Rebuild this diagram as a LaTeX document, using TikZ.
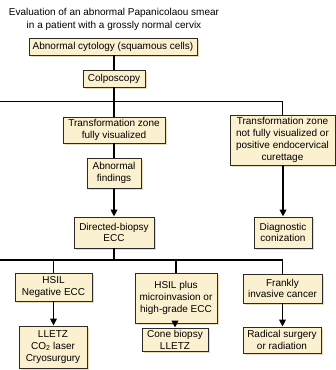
\documentclass[tikz,border=0pt]{standalone}
\usepackage{fontspec}
\setmainfont{Liberation Sans}
\usetikzlibrary{arrows.meta}
\definecolor{boxfill}{HTML}{FBF0CF}
\definecolor{boxshadow}{HTML}{E9DCB8}
\definecolor{boxline}{HTML}{2A2A2A}
\tikzset{
  box/.style={draw=boxline, line width=0.8pt, fill=boxfill, align=center,
    inner sep=0pt, font=\fontsize{10}{11.8}\selectfont,
    preaction={fill=boxshadow, transform canvas={shift={(2pt,-2pt)}}}},
  conn/.style={line width=1.7pt, black},
  arr/.style={conn, -{Triangle[length=7pt,width=6.5pt]}}
}
\newcommand{\bx}[6]{\node[box, minimum width=#4pt, minimum height=#5pt] (#1) at (#2,#3) {#6};}
\begin{document}
\begin{tikzpicture}[x=1pt,y=-1pt]
\useasboundingbox (0,0) rectangle (336,370);
\node[align=center, font=\fontsize{10}{13}\selectfont] (title) at (114,19.5)
  {Evaluation of an abnormal Papanicolaou smear\\in a patient with a grossly normal cervix};
\bx{cyt}{113}{46.5}{168}{17}{Abnormal cytology (squamous cells)}
\bx{colp}{114}{78.5}{62}{17}{Colposcopy}
\bx{tza}{114}{130}{102}{26}{Transformation zone\\fully visualized}
\bx{tzb}{282.5}{140}{105}{50}{Transformation zone\\not fully visualized or\\positive endocervical\\curettage}
\bx{abn}{114}{173}{54}{30}{Abnormal\\findings}
\bx{dir}{114}{232.5}{80}{31}{Directed-biopsy\\ECC}
\bx{diag}{283}{232.5}{58}{31}{Diagnostic\\conization}
\bx{hsil}{53.5}{287}{77}{28}{HSIL\\Negative ECC}
\bx{hsilp}{176}{298}{82}{50}{HSIL plus\\microinvasion or\\high-grade ECC}
\bx{frank}{282.5}{288.5}{79}{29}{Frankly\\invasive cancer}
\bx{lletz}{53}{347}{68}{42}{LLETZ\\CO\textsubscript{2} laser\\Cryosurgury}
\bx{cone}{175}{339.5}{66}{23}{Cone biopsy\\LLETZ}
\bx{rad}{282}{340}{78}{26}{Radical surgery\\or radiation}
\coordinate (j1) at (114,101.5);
\coordinate (l1) at (0,101.5);
\coordinate (j2) at (114,260);
\coordinate (l2) at (0,260);
\draw[conn] (cyt.south -| colp) -- (colp.north);
\draw[conn] (colp.south) -- (tza.north);
\draw[conn] (l1) -- (j1 -| tzb) -- (tzb.north);
\draw[conn] (tza.south) -- (abn.north);
\draw[arr] (abn.south) -- (dir.north);
\draw[arr] (tzb.south -| diag) -- (diag.north);
\draw[conn] (dir.south) -- (j2);
\draw[conn] (l2) -- (j2 -| frank) -- (frank.north);
\draw[conn] (hsil.north |- j2) -- (hsil.north);
\draw[conn] (hsilp.north |- j2) -- (hsilp.north);
\draw[arr] (hsil.south) -- (lletz.north -| hsil.south);
\draw[arr] (hsilp.south -| cone) -- (cone.north);
\draw[arr] (frank.south) -- (rad.north -| frank.south);
\end{tikzpicture}
\end{document}
